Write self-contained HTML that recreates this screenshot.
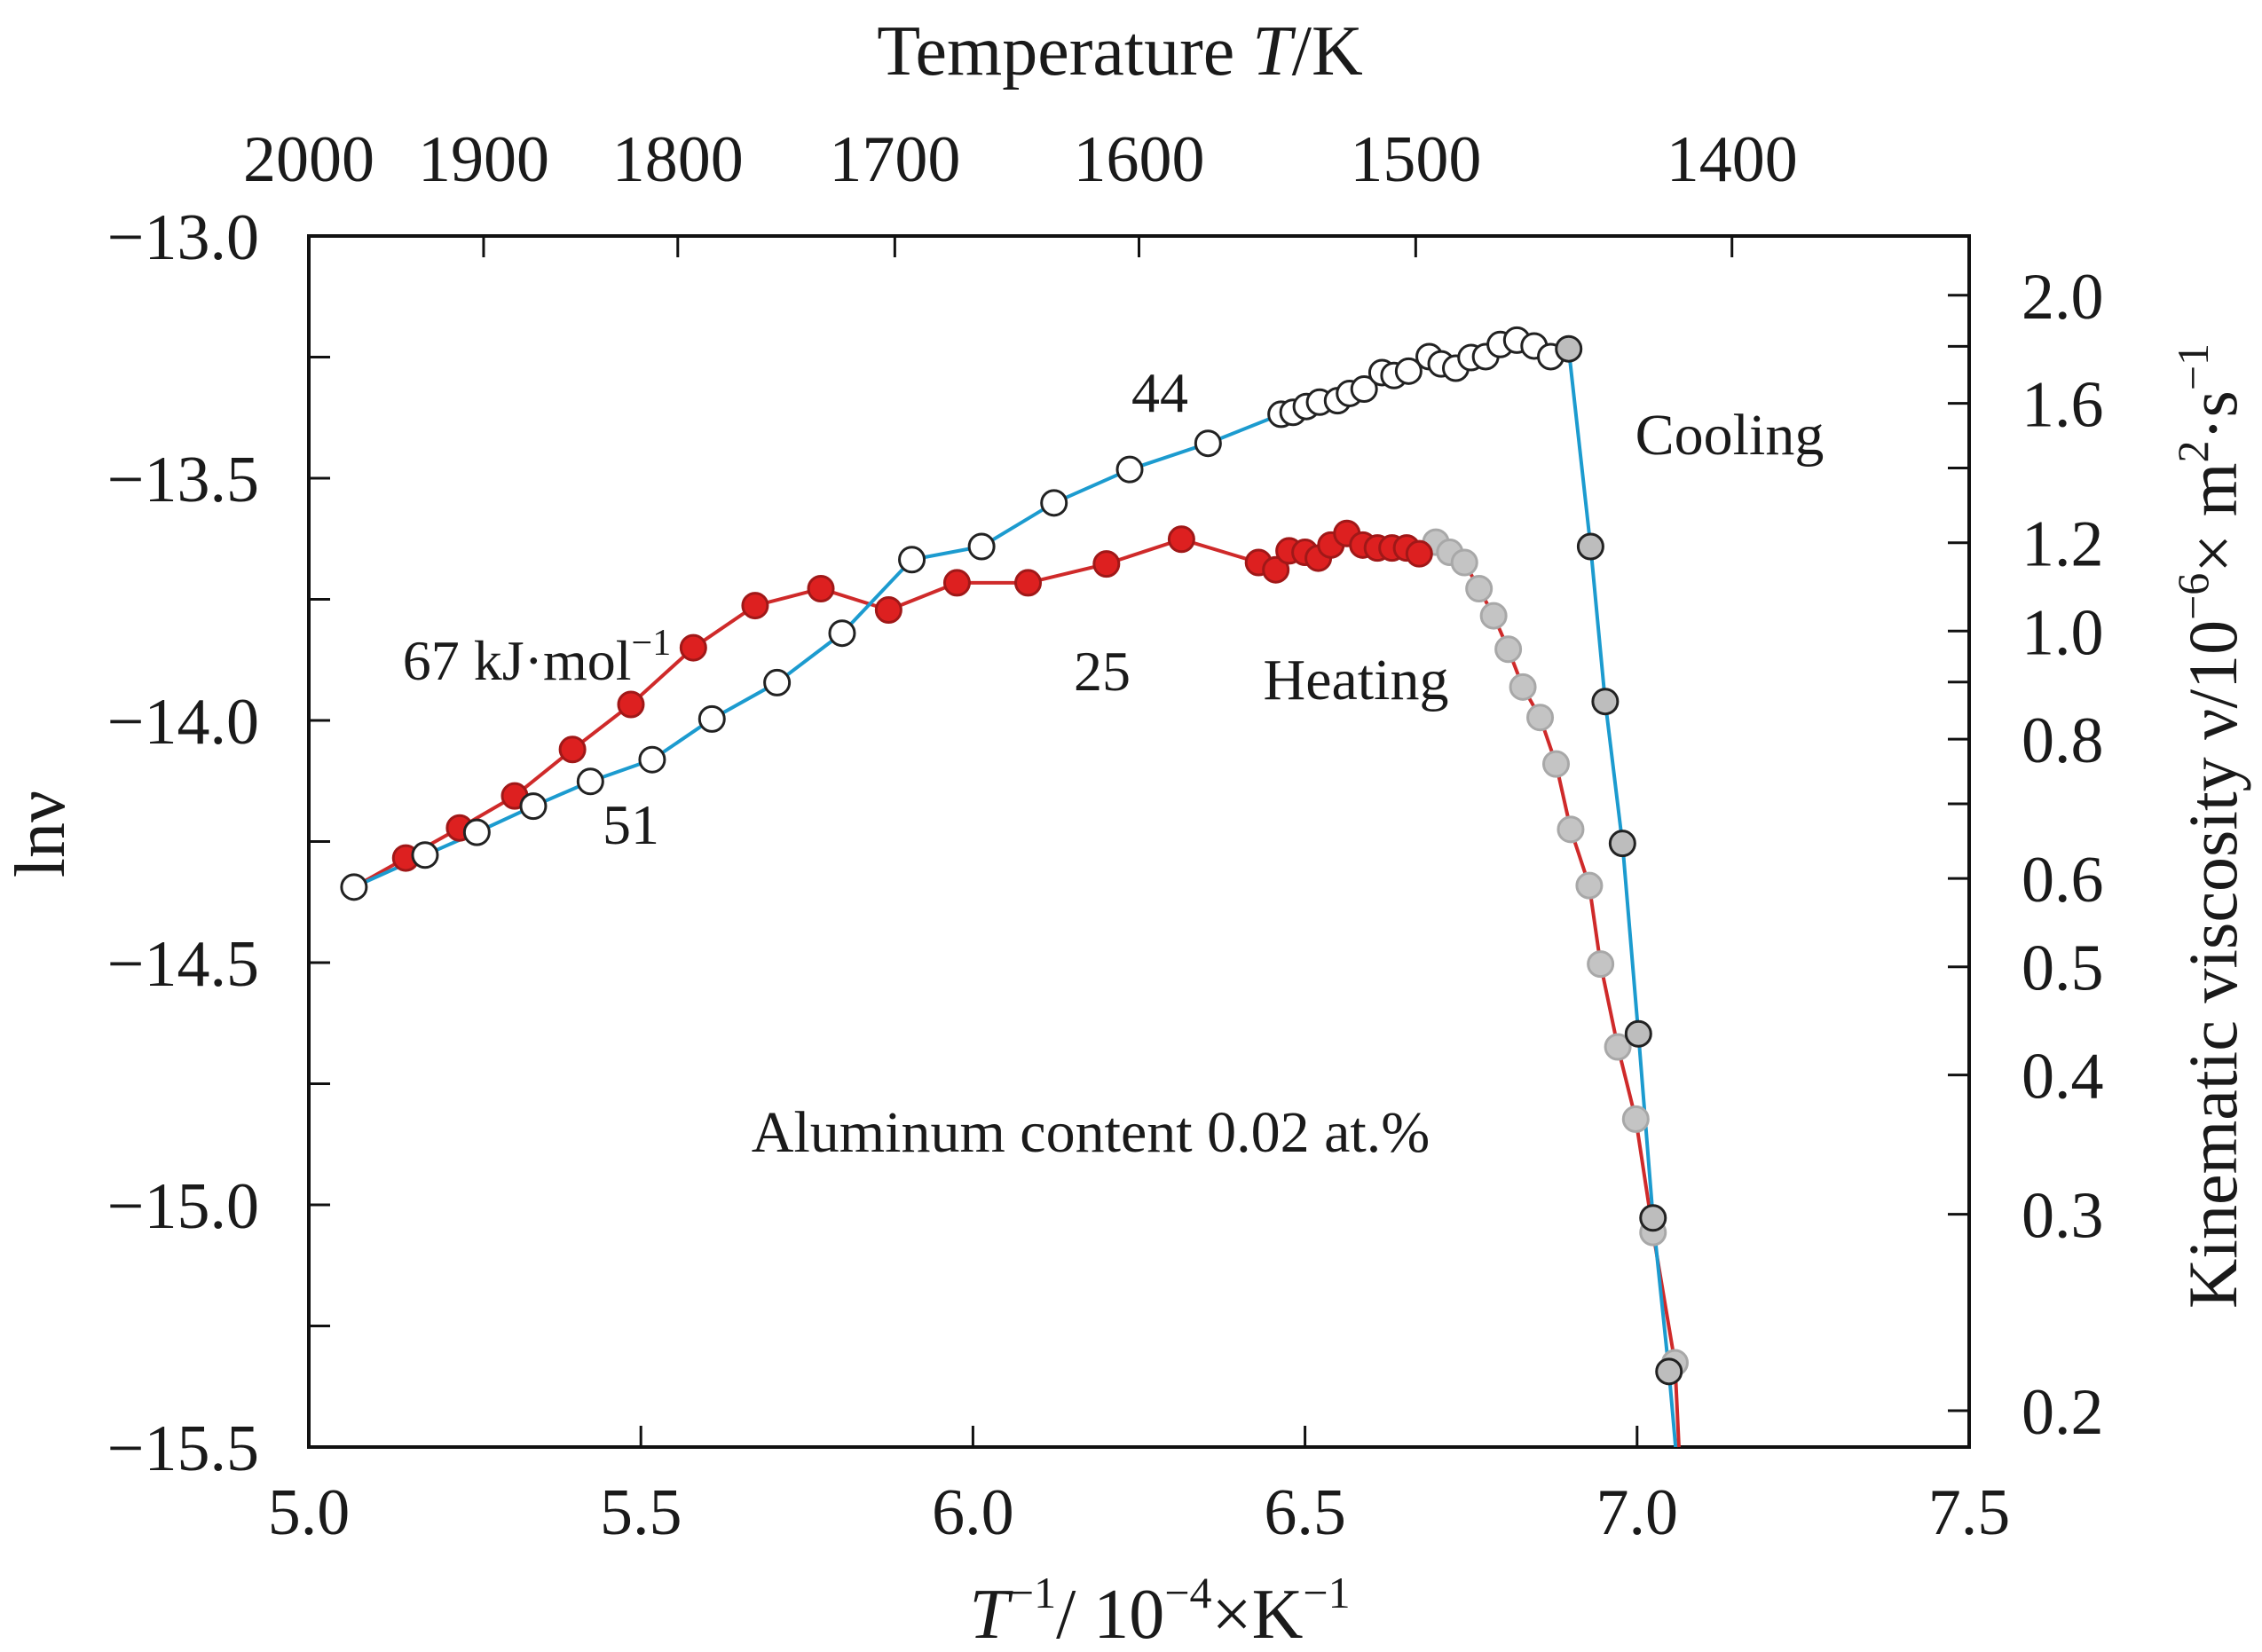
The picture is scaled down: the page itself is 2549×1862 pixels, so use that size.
<!DOCTYPE html>
<html><head><meta charset="utf-8"><style>
html,body{margin:0;padding:0;background:#fff}
svg{display:block}
text{font-family:"Liberation Serif",serif;fill:#1a1a1a}
</style></head><body>
<svg id="chart" width="2549" height="1862" viewBox="0 0 2549 1862" xmlns="http://www.w3.org/2000/svg">
<g id="axes"></g>
<g id="series"></g>
<text x="1262" y="84" font-size="80" text-anchor="middle">Temperature <tspan font-style="italic">T</tspan>/K</text>
<text x="1307" y="1846" font-size="80" text-anchor="middle"><tspan font-style="italic">T</tspan><tspan font-size="50" dy="-34">−1</tspan><tspan dy="34">/ 10</tspan><tspan font-size="50" dy="-34">−4</tspan><tspan dy="34">×K</tspan><tspan font-size="50" dy="-34">−1</tspan></text>
<text transform="translate(72,940) rotate(-90)" font-size="80" text-anchor="middle">lnν</text>
<text transform="translate(2520,931) rotate(-90)" font-size="78" text-anchor="middle">Kinematic viscosity ν/10<tspan font-size="50" dy="-32">−6</tspan><tspan dy="32">× m</tspan><tspan font-size="50" dy="-32">2</tspan><tspan dy="32">·s</tspan><tspan font-size="50" dy="-32">−1</tspan></text>
<text x="1307" y="464" font-size="64" text-anchor="middle">44</text>
<text x="1949" y="512" font-size="66" text-anchor="middle">Cooling</text>
<text x="605" y="766" font-size="64" text-anchor="middle">67 kJ·mol<tspan font-size="42" dy="-28">−1</tspan></text>
<text x="1242" y="778" font-size="64" text-anchor="middle">25</text>
<text x="1528" y="788" font-size="66" text-anchor="middle">Heating</text>
<text x="711" y="951" font-size="64" text-anchor="middle">51</text>
<text x="1229" y="1298" font-size="66" text-anchor="middle">Aluminum content 0.02 at.%</text>
</svg>
<script>
const xTicks=[5.0,5.5,6.0,6.5,7.0,7.5];
const xTickLabels=["5.0","5.5","6.0","6.5","7.0","7.5"];
const yTicks=[-13.0,-13.5,-14.0,-14.5,-15.0,-15.5];
const yTickLabels=["−13.0","−13.5","−14.0","−14.5","−15.0","−15.5"];
const yMinorTicks=[-13.25,-13.75,-14.25,-14.75,-15.25];
const tempTicks=[2000,1900,1800,1700,1600,1500,1400];
const viscTicks=[2.0,1.8,1.6,1.4,1.2,1.0,0.9,0.8,0.7,0.6,0.5,0.4,0.3,0.2];
const viscLabeled=[2.0,1.6,1.2,1.0,0.8,0.6,0.5,0.4,0.3,0.2];
const coolX=[5.068,5.175,5.253,5.338,5.424,5.517,5.607,5.705,5.803,5.908,6.013,6.122,6.236,6.354,6.464,6.482,6.502,6.522,6.549,6.567,6.589,6.616,6.634,6.656,6.687,6.705,6.727,6.750,6.772,6.794,6.819,6.845,6.870];
const coolY=[-14.344,-14.278,-14.231,-14.177,-14.126,-14.081,-13.997,-13.922,-13.82,-13.668,-13.641,-13.551,-13.482,-13.428,-13.368,-13.364,-13.352,-13.343,-13.340,-13.325,-13.316,-13.282,-13.288,-13.279,-13.249,-13.264,-13.273,-13.251,-13.249,-13.224,-13.215,-13.227,-13.249];
const coolDarkX=[6.897,6.930,6.952,6.978,7.002,7.024,7.048];
const coolDarkY=[-13.233,-13.641,-13.961,-14.254,-14.647,-15.027,-15.344];
const heatX=[5.146,5.227,5.31,5.397,5.485,5.579,5.672,5.771,5.873,5.976,6.083,6.201,6.314,6.430,6.456,6.476,6.5,6.52,6.539,6.563,6.587,6.609,6.631,6.653,6.672];
const heatY=[-14.284,-14.222,-14.156,-14.06,-13.967,-13.85,-13.763,-13.728,-13.772,-13.716,-13.716,-13.677,-13.626,-13.674,-13.689,-13.65,-13.653,-13.665,-13.638,-13.614,-13.638,-13.644,-13.644,-13.644,-13.656];
const heatGreyX=[6.697,6.718,6.74,6.762,6.784,6.806,6.828,6.854,6.878,6.9,6.928,6.945,6.971,6.998,7.024,7.057];
const heatGreyY=[-13.632,-13.653,-13.674,-13.728,-13.784,-13.853,-13.931,-13.994,-14.09,-14.225,-14.341,-14.503,-14.674,-14.823,-15.057,-15.326];

const L=348,R=2219,T=266,B=1631;
const X=v=>L+(v-5)/2.5*(R-L);
const Y=v=>T+(v+13)/(-2.5)*(B-T);
const NS="http://www.w3.org/2000/svg";
function mk(tag,parent,attrs){const e=document.createElementNS(NS,tag);for(const k in attrs)e.setAttribute(k,attrs[k]);parent.appendChild(e);return e;}
const ax=document.getElementById('axes');
const se=document.getElementById('series');
const fr=mk('rect',ax,{x:L,y:T,width:R-L,height:B-T,fill:'none',stroke:'#111','stroke-width':4});


xTicks.forEach((v,i)=>{
  if(i>0&&i<xTicks.length-1){const t=mk('line',ax,{x1:X(v),x2:X(v),y1:B,y2:B-24,stroke:'#111','stroke-width':3});
  
  }
  const l=mk('text',ax,{x:X(v),y:B+98,'font-size':74,'text-anchor':'middle'});l.textContent=xTickLabels[i];
  
  
});
yTicks.forEach((v,i)=>{
  if(i>0&&i<yTicks.length-1){const t=mk('line',ax,{x1:L,x2:L+24,y1:Y(v),y2:Y(v),stroke:'#111','stroke-width':3});
  
  }
  const l=mk('text',ax,{x:292,y:Y(v)+26,'font-size':74,'text-anchor':'end'});l.textContent=yTickLabels[i];
  
  
});
yMinorTicks.forEach(v=>{const t=mk('line',ax,{x1:L,x2:L+24,y1:Y(v),y2:Y(v),stroke:'#111','stroke-width':3});
  
  });
tempTicks.forEach(Tk=>{
  const x=X(1e4/Tk);
  if(Tk!==2000){const t=mk('line',ax,{x1:x,x2:x,y1:T,y2:T+24,stroke:'#111','stroke-width':3});
  
  }
  const l=mk('text',ax,{x:x,y:204,'font-size':74,'text-anchor':'middle'});l.textContent=String(Tk);
  
  
});
viscTicks.forEach(v=>{
  const y=Y(Math.log(v*1e-6));
  const t=mk('line',ax,{x1:R,x2:R-24,y1:y,y2:y,stroke:'#111','stroke-width':3});
  
  
  if(viscLabeled.includes(v)){const l=mk('text',ax,{x:2278,y:y+26,'font-size':74});l.textContent=v.toFixed(1);
  
  }
});
function line(xs,ys,color,name){
  let pts=xs.map((x,i)=>X(x)+','+Y(ys[i]));
  const p=mk('polyline',se,{points:pts.join(' '),fill:'none',stroke:color,'stroke-width':4});
  
  
}
function dots(xs,ys,fill,stroke,name){
  xs.forEach((x,i)=>{const c=mk('circle',se,{cx:X(x),cy:Y(ys[i]),r:14,fill:fill,stroke:stroke,'stroke-width':3});
  
  });
}
const hAllX=heatX.concat(heatGreyX), hAllY=heatY.concat(heatGreyY);
const hx=[5.068].concat(hAllX,[7.063]), hy=[-14.344].concat(hAllY,[-15.5]);
line(hx,hy,'#cf2a2a','heating-line');
const cAllX=coolX.concat(coolDarkX,[7.058]), cAllY=coolY.concat(coolDarkY,[-15.5]);
line(cAllX,cAllY,'#1c9bcf','cooling-line');
dots(heatGreyX,heatGreyY,'#c4c4c4','#a8a8a8','heating-grey-point');
dots(heatX,heatY,'#dd2020','#a01818','heating-point');
dots(coolX,coolY,'#ffffff','#222','cooling-point');
dots(coolDarkX,coolDarkY,'#bdbdbd','#222','cooling-grey-point');
</script>
</body></html>
